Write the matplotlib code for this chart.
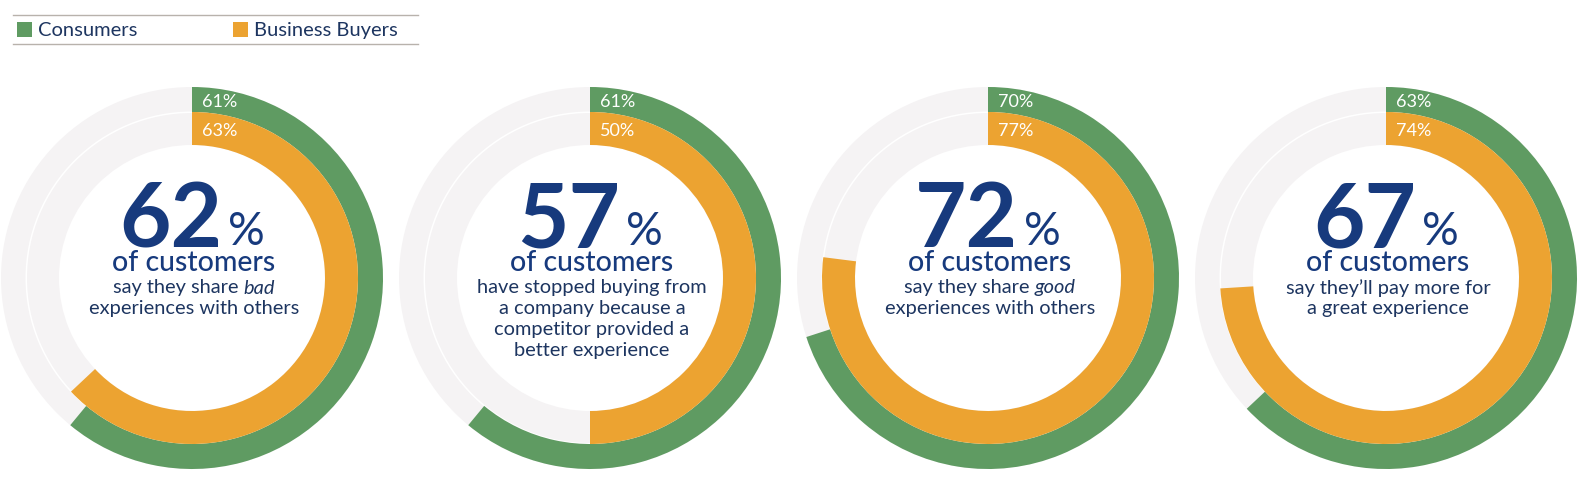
import matplotlib
matplotlib.use("Agg")
import matplotlib.pyplot as plt
from matplotlib.patches import Wedge, Rectangle

# data
consumers = [61, 61, 70, 63]
business = [63, 50, 77, 74]
headline = [62, 57, 72, 67]
desc = [
    [("say they share ", "bad"), ("experiences with others", "")],
    [("have stopped buying from", ""), ("a company because a", ""),
     ("competitor provided a", ""), ("better experience", "")],
    [("say they share ", "good"), ("experiences with others", "")],
    [("say they\u2019ll pay more for", ""), ("a great experience", "")],
]
legend_labels = ["Consumers", "Business Buyers"]

GREEN = "#5f9b62"
ORANGE = "#eca331"
GREY = "#f5f3f4"
NAVY = "#173a7d"
TEXT = "#1d3560"
FONT = "Lato"

W, H = 1583, 499
fig = plt.figure(figsize=(W / 100, H / 100), dpi=100)
ax = fig.add_axes([0, 0, 1, 1])
ax.set_xlim(0, W)
ax.set_ylim(H, 0)
ax.axis("off")

centers = [192, 590, 988, 1386]
cy = 278
R_out, R_mid, R_in = 191, 166, 133

fig.canvas.draw()
renderer = fig.canvas.get_renderer()


def width_of(t):
    return t.get_window_extent(renderer).width


for i, cx in enumerate(centers):
    # background tracks
    ax.add_patch(Wedge((cx, cy), R_out, 0, 360, width=R_out - R_mid - 0.5, facecolor=GREY, edgecolor="none"))
    ax.add_patch(Wedge((cx, cy), R_mid - 1, 0, 360, width=R_mid - 1 - R_in, facecolor=GREY, edgecolor="none"))
    # value arcs, clockwise from the top (y axis is flipped)
    ax.add_patch(Wedge((cx, cy), R_out, -90, -90 + 3.6 * consumers[i], width=R_out - R_mid,
                       facecolor=GREEN, edgecolor="none"))
    ax.add_patch(Wedge((cx, cy), R_mid, -90, -90 + 3.6 * business[i], width=R_mid - R_in,
                       facecolor=ORANGE, edgecolor="none"))
    ax.text(cx + 10, cy - (R_out + R_mid) / 2 + 2, f"{consumers[i]}%", color="white",
            fontsize=13, family=FONT, ha="left", va="center")
    ax.text(cx + 10, cy - (R_mid + R_in) / 2 + 3, f"{business[i]}%", color="white",
            fontsize=13, family=FONT, ha="left", va="center")

    # headline number
    ax.text(cx + 30, 247, str(headline[i]), color=NAVY, fontsize=64, family=FONT,
            fontweight="bold", ha="right", va="baseline")
    ax.text(cx + 36, 245, "%", color=NAVY, fontsize=33, family=FONT,
            fontweight="normal", ha="left", va="baseline")
    ax.text(cx + 2, 263, "of customers", color=NAVY, fontsize=20.5, family=FONT,
            fontweight="medium", ha="center", va="center")

    for j, (plain, ital) in enumerate(desc[i]):
        y = 288 + j * 20.7
        t1 = ax.text(0, y, plain, color=TEXT, fontsize=14.4, family=FONT, ha="left", va="center")
        if ital:
            t2 = ax.text(0, y, ital, color=TEXT, fontsize=14.4, family=FONT, style="italic",
                         ha="left", va="center")
            w1, w2 = width_of(t1), width_of(t2)
            x0 = cx + 2 - (w1 + w2) / 2
            t1.set_x(x0)
            t2.set_x(x0 + w1)
        else:
            t1.set_x(cx + 2)
            t1.set_ha("center")

# legend
ax.plot([13, 418], [15, 15], color="#b8b2ac", lw=1)
ax.plot([13, 418], [44, 44], color="#b8b2ac", lw=1)
for x, col, lab in zip([17, 233], [GREEN, ORANGE], legend_labels):
    ax.add_patch(Rectangle((x, 22), 15, 15, facecolor=col, edgecolor="none"))
    ax.text(x + 21, 30, lab, color=TEXT, fontsize=14.5, family=FONT, ha="left", va="center")

fig.savefig("out.png", dpi=100)
